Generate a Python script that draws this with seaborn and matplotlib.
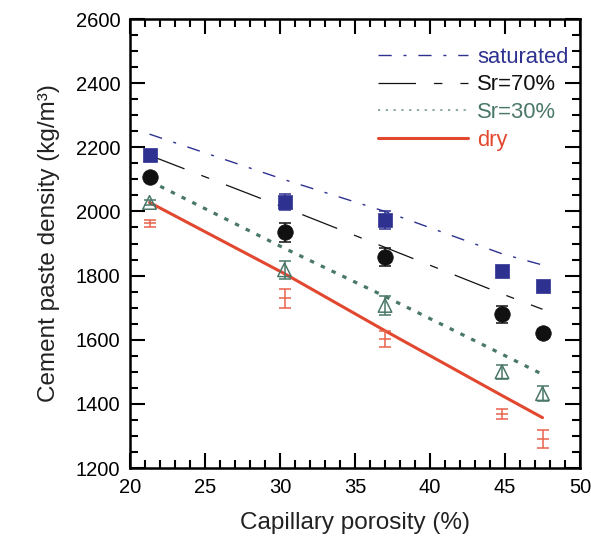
import matplotlib
matplotlib.use("Agg")
import matplotlib.pyplot as plt
from matplotlib.ticker import MultipleLocator
import seaborn as sns
import pandas as pd

# Capillary porosity of the pastes (%)
porosity = [21.3, 30.3, 37.0, 44.8, 47.5]

# Measured densities (kg/m3) and their scatter
sat_meas = [2176, 2030, 1972, 1813, 1766]
sat_err = [8, 24, 28, 15, 8]
sr70_meas = [2106, 1935, 1859, 1679, 1620]
sr70_err = [10, 30, 28, 27, 15]
sr30_meas = [2028, 1818, 1707, 1500, 1432]
sr30_err = [8, 29, 30, 22, 23]
dry_meas = [1963, 1729, 1603, 1369, 1290]
dry_err = [10, 29, 25, 15, 28]

# Computed densities for each moisture state (kg/m3)
sat_model = [2241, 2099, 2000, 1868, 1833]
sr70_model = [2175, 2012, 1888, 1743, 1695]
sr30_model = [2095, 1885, 1735, 1555, 1492]
dry_model = [2028, 1806, 1628, 1426, 1357]

labels = ["saturated", "Sr=70%", "Sr=30%", "dry"]
colors = ["#2e3190", "#111111", "#4a7868", "#e2472f"]

sns.set_theme(style="white")
plt.rcParams["font.family"] = ["Liberation Sans", "DejaVu Sans"]
plt.rcParams["lines.scale_dashes"] = False

fig = plt.figure(figsize=(5.91, 5.40), dpi=100)
ax = fig.add_axes([0.22, 0.1333, 0.7614, 0.8315])

model = pd.DataFrame({
    "porosity": porosity * 4,
    "density": sat_model + sr70_model + sr30_model + dry_model,
    "state": sum([[lab] * len(porosity) for lab in labels], []),
})

line_styles = {
    "saturated": dict(lw=1.0, linestyle=(0, (9.5, 8.5, 2.2, 8.5))),
    "Sr=70%": dict(lw=0.9, linestyle=(0, (27, 13, 6, 13))),
    "Sr=30%": dict(lw=2.3, linestyle=(0, (3.2, 5.4))),
    "dry": dict(lw=2.2, linestyle="-"),
}
for lab, col in zip(labels, colors):
    sub = model[model["state"] == lab]
    sns.lineplot(data=sub, x="porosity", y="density", color=col, ax=ax,
                 label=lab, zorder=2, **line_styles[lab])

# Measured points with error bars
meas = [sat_meas, sr70_meas, sr30_meas, dry_meas]
errs = [sat_err, sr70_err, sr30_err, dry_err]
ebar_cols = ["#2e3190", "#111111", "#4a7868", "#e8624c"]
for vals, err, col in zip(meas, errs, ebar_cols):
    ax.errorbar(porosity, vals, yerr=err, fmt="none", ecolor=col,
                elinewidth=1.1, capsize=4.0, capthick=1.1, zorder=3)

pts = pd.DataFrame({"porosity": porosity, "sat": sat_meas, "sr70": sr70_meas,
                    "sr30": sr30_meas, "dry": dry_meas})
sns.scatterplot(data=pts, x="porosity", y="sat", marker="s", s=105,
                color="#2e3190", edgecolor="#2e3190", linewidth=0.5, ax=ax, zorder=4)
sns.scatterplot(data=pts, x="porosity", y="sr70", marker="o", s=125,
                color="#111111", edgecolor="#111111", linewidth=0.5, ax=ax, zorder=4)
sns.scatterplot(data=pts, x="porosity", y="sr30", marker="^", s=95,
                facecolor="none", edgecolor="#4a7868", linewidth=1.1, ax=ax, zorder=4)
sns.scatterplot(data=pts, x="porosity", y="dry", marker="_", s=75,
                color="#e8624c", linewidth=1.1, ax=ax, zorder=4)

ax.set_xlim(20, 50)
ax.set_ylim(1200, 2600)
ax.xaxis.set_major_locator(MultipleLocator(5))
ax.xaxis.set_minor_locator(MultipleLocator(1))
ax.yaxis.set_major_locator(MultipleLocator(200))
ax.yaxis.set_minor_locator(MultipleLocator(50))
ax.tick_params(which="both", direction="in", top=True, right=True,
               bottom=True, left=True, colors="black", width=1.5)
ax.tick_params(which="major", length=11, labelsize=14.5, pad=7)
ax.tick_params(which="minor", length=6)
for sp in ax.spines.values():
    sp.set_color("black")
    sp.set_linewidth(1.8)

ax.set_xlabel("Capillary porosity (%)", fontsize=17.5, labelpad=11, color="#222222")
ax.set_ylabel("Cement paste density (kg/m³)", fontsize=17.5, labelpad=11, color="#222222")

leg = ax.legend(loc="upper right", bbox_to_anchor=(0.975, 0.938), frameon=False,
                fontsize=15.8, handlelength=4.1, handletextpad=0.45,
                labelspacing=0.3, borderpad=0, borderaxespad=0)
for txt, col in zip(leg.get_texts(), colors):
    txt.set_color(col)
# the dotted key is drawn finer than the data line
h30 = leg.legend_handles[2]
h30.set_linewidth(1.3)
h30.set_color("#7fa396")
h30.set_linestyle((0, (1.6, 4.0)))

fig.savefig("out.png", dpi=100)
